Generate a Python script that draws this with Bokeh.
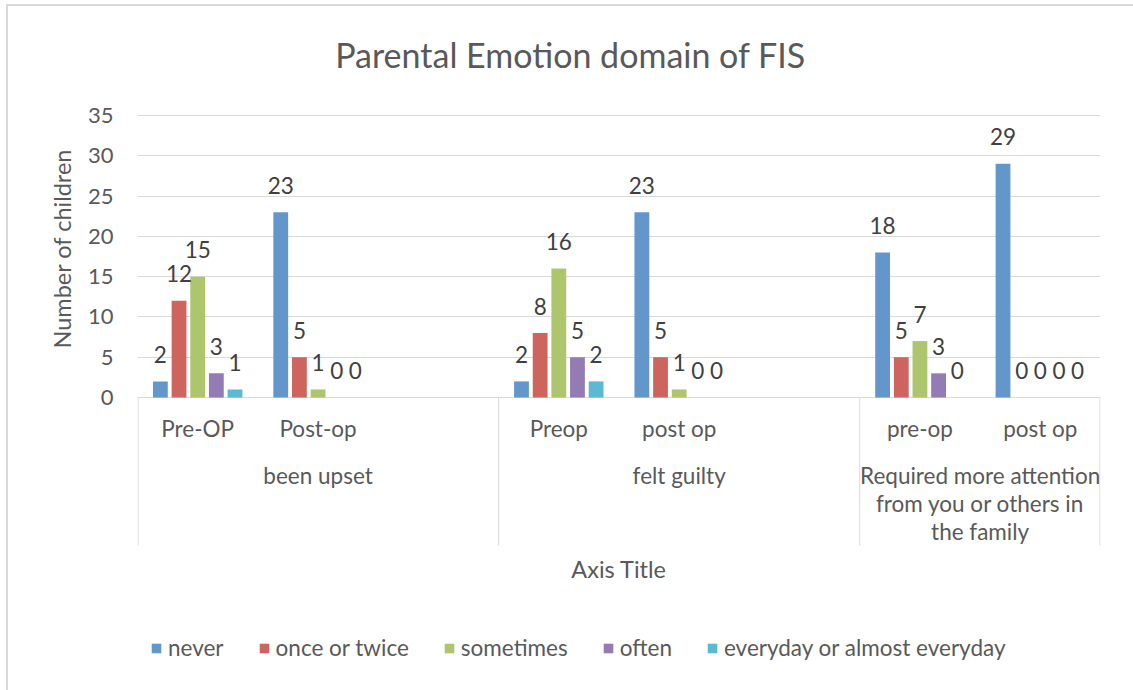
import math
from bokeh.plotting import figure
from bokeh.models import (FactorRange, Range1d, ColumnDataSource, LabelSet, Title,
                          Legend, LegendItem, FixedTicker)
from bokeh.transform import dodge
from bokeh.core.properties import value
from bokeh.embed import file_html
from bokeh.resources import INLINE

# ---------------- data ----------------
groups = ["been upset", "felt guilty",
          "Required more attention from you or others in the family"]
group_labels = ["been upset", "felt guilty",
                "Required more attention\nfrom you or others in\nthe family"]
subcats = [["Pre-OP", "Post-op", ""], ["Preop", "post op", ""], ["pre-op", "post op"]]
series = ["never", "once or twice", "sometimes", "often", "everyday or almost everyday"]
colors = ["#6397CB", "#CE645E", "#ADC56C", "#957BB3", "#5BBAD3"]

never = [2, 23, 2, 23, 18, 29]
once_or_twice = [12, 5, 8, 5, 5, 0]
sometimes = [15, 1, 16, 1, 7, 0]
often = [3, 0, 5, 0, 3, 0]
everyday = [1, 0, 2, 0, 0, 0]
y_ticks = [0, 5, 10, 15, 20, 25, 30, 35]

title_text = "Parental Emotion domain of FIS"
x_title = "Axis Title"
y_title = "Number of children"

# ---------------- layout / styles ----------------
W, H = 1133, 690
FRAME_L, FRAME_R = 137, 1100
ZERO_PX, TOP35_PX = 397, 115
PPU = (ZERO_PX - TOP35_PX) / 35.0
FONT = "Lato"
TXT = "#595959"
LBL = "#404040"
GRID = "#d9d9d9"
FS = "22.5px"
bar_pitch = 0.155
bar_width = 0.123

def ydata(px):
    return (ZERO_PX - px) / PPU

factors = [(g, s) for g, subs in zip(groups, subcats) for s in subs]
cats = [f for f in factors if f[1] != ""]
values = [never, once_or_twice, sometimes, often, everyday]
SLOT = (FRAME_R - FRAME_L) / len(factors)

def xdata(px):
    return (px - FRAME_L) / SLOT

border_css = ("linear-gradient(#d9d9d9,#d9d9d9) 7px 4px / 100% 2px no-repeat, "
              "linear-gradient(#d9d9d9,#d9d9d9) 6px 4px / 2px 100% no-repeat, white")

p = figure(width=W, height=H,
           x_range=FactorRange(factors=factors, factor_padding=0, group_padding=0,
                               subgroup_padding=0, range_padding=0),
           y_range=Range1d(ydata(H), ydata(0)),
           output_backend="svg", toolbar_location=None,
           min_border_left=FRAME_L, min_border_right=W - FRAME_R,
           min_border_top=0, min_border_bottom=0,
           styles={"background": border_css})
p.border_fill_alpha = 0
p.background_fill_alpha = 0
p.title.visible = False
p.outline_line_color = None
p.xaxis.visible = False
p.xgrid.visible = False

p.yaxis.ticker = FixedTicker(ticks=y_ticks)
p.ygrid.ticker = FixedTicker(ticks=y_ticks)
p.ygrid.grid_line_color = GRID
p.ygrid.grid_line_width = 1
p.yaxis.axis_line_color = None
p.yaxis.major_tick_line_color = None
p.yaxis.minor_tick_line_color = None
p.yaxis.major_tick_out = 0
p.yaxis.major_tick_in = 0
p.yaxis.major_label_standoff = 24
p.yaxis.major_label_text_font = FONT
p.yaxis.major_label_text_font_size = "22px"
p.yaxis.major_label_text_color = TXT

items = []
for i, (name, vals, col) in enumerate(zip(series, values, colors)):
    off = (i - (len(series) - 1) / 2) * bar_pitch
    src = ColumnDataSource(dict(x=cats, top=vals, label=[str(v) for v in vals]))
    r = p.vbar(x=dodge('x', off, range=p.x_range), top='top', width=bar_width,
               source=src, fill_color=col, line_color=None)
    items.append(LegendItem(label=name, renderers=[r]))
    p.add_layout(LabelSet(x=dodge('x', off, range=p.x_range), y='top', text='label',
                          source=src, text_align='center', text_baseline='middle',
                          y_offset=27, text_font=value(FONT), text_font_size=FS,
                          text_color=LBL))

# category axis boxes
bounds = [0]
for subs in subcats:
    bounds.append(bounds[-1] + len(subs))
bx = [b + (0.005 if k == 0 else (-0.005 if k == len(bounds) - 1 else 0))
      for k, b in enumerate(bounds)]
p.segment(x0=bx, y0=[0] * len(bx), x1=bx, y1=[ydata(545)] * len(bx),
          line_color=GRID, line_width=1)

p.text(x=cats, y=[ydata(428)] * len(cats), text=[c[1] for c in cats],
       text_font=value(FONT), text_font_size=FS, text_color=TXT,
       text_align="center", text_baseline="middle")

line_step_px = 27.8
gy = [ydata(475 + lab.count("\n") * line_step_px / 2) for lab in group_labels]
p.text(x=groups, y=gy, text=group_labels,
       text_font=value(FONT), text_font_size=FS, text_color=TXT,
       text_align="center", text_baseline="middle", text_line_height=1.04)

# chart title and axis title
p.text(x=[xdata(570)], y=[ydata(54)], text=[title_text],
       text_font=value(FONT), text_font_size="34px", text_color=TXT,
       text_align="center", text_baseline="middle")
p.text(x=[bounds[-1] / 2], y=[ydata(568)], text=[x_title],
       text_font=value(FONT), text_font_size="23.5px", text_color=TXT,
       text_align="center", text_baseline="middle")

# y-axis title
p.add_layout(Title(text=y_title, align="left", offset=H - 348, standoff=18,
                   text_font=FONT, text_font_size="23.5px", text_color=TXT,
                   text_font_style="normal"), "left")

legend = Legend(items=items, orientation="horizontal", location=(13, H - 661),
                glyph_width=12, glyph_height=12, label_standoff=6, spacing=34,
                padding=0, margin=0, border_line_color=None, background_fill_alpha=0,
                label_text_font=FONT, label_text_font_size=FS, label_text_color=TXT,
                label_height=20)
p.add_layout(legend)

open("out.html", "w").write(file_html(p, INLINE))
